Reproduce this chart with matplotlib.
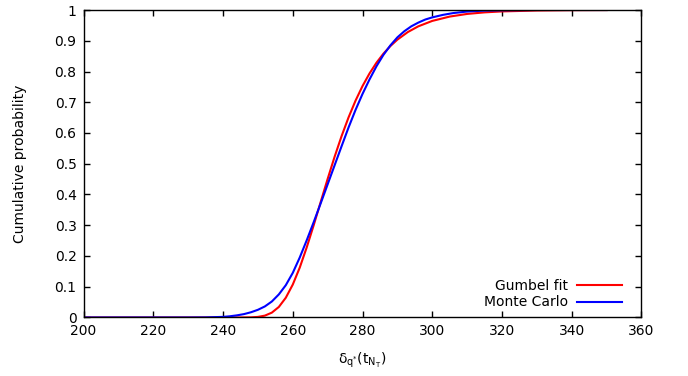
import matplotlib
matplotlib.use("Agg")
import matplotlib.pyplot as plt
from matplotlib.ticker import FormatStrFormatter

# Gumbel fit (red)
gumbel_x = [200, 240, 245, 248, 250, 252, 254, 256, 258, 260, 262, 264, 266, 268,
            270, 272, 274, 276, 278, 280, 282, 284, 286, 288, 290, 293, 296, 300,
            305, 310, 315, 320, 330, 340, 350]
gumbel_y = [0.0, 0.0, 0.00003, 0.00045, 0.0019, 0.0061, 0.0158, 0.0342, 0.0642,
            0.1070, 0.1622, 0.2279, 0.3000, 0.3755, 0.4506, 0.5228, 0.5899, 0.6508,
            0.7052, 0.7526, 0.7935, 0.8285, 0.8580, 0.8828, 0.9036, 0.9283, 0.9469,
            0.9645, 0.9786, 0.9872, 0.9923, 0.9954, 0.9983, 0.9994, 0.9998]

# Monte Carlo (blue)
mc_x = [200, 230, 235, 240, 242, 244, 246, 248, 250, 252, 254, 256, 258, 260, 262,
        264, 266, 268, 270, 272, 274, 276, 278, 280, 282, 284, 286, 288, 290, 292,
        294, 296, 298, 300, 303, 306, 310, 315, 320, 330, 350]
mc_y = [0.0, 0.0, 0.0003, 0.002, 0.004, 0.007, 0.011, 0.017, 0.025, 0.036, 0.052,
        0.075, 0.105, 0.145, 0.195, 0.251, 0.310, 0.371, 0.433, 0.495, 0.557, 0.618,
        0.675, 0.727, 0.774, 0.817, 0.854, 0.885, 0.911, 0.931, 0.947, 0.959, 0.969,
        0.976, 0.984, 0.990, 0.995, 0.998, 0.999, 1.0, 1.0]

plt.rcParams['mathtext.default'] = 'regular'

fig = plt.figure(figsize=(6.88, 3.76), dpi=100)
ax = fig.add_axes([0.1214, 0.1556, 0.8110, 0.8178])

ax.plot(gumbel_x, gumbel_y, color='#ff0000', linewidth=1.5, label='Gumbel fit')
ax.plot(mc_x, mc_y, color='#0000ff', linewidth=1.5, label='Monte Carlo')

ax.set_xlim(200, 360)
ax.set_ylim(0, 1)
ax.set_xticks(range(200, 361, 20))
ax.set_yticks([i / 10 for i in range(11)])
ax.yaxis.set_major_formatter(FormatStrFormatter('%g'))
ax.tick_params(direction='in', length=4.5, width=1, top=True, right=True,
               labelsize=10, pad=5)
for s in ax.spines.values():
    s.set_linewidth(1)

ax.set_xlabel(r'$\delta_{q^{*}}(t_{N_{T}})$', fontsize=10, labelpad=9)
ax.set_ylabel('Cumulative probability', fontsize=10, labelpad=20)

ax.legend(loc='lower right', frameon=False, markerfirst=False, fontsize=10,
          handlelength=3.3, handletextpad=0.6, labelspacing=0.15,
          borderaxespad=0.4, bbox_to_anchor=(1 - 8 / 558, -3 / 307.5))

plt.savefig("out.png", dpi=100)
